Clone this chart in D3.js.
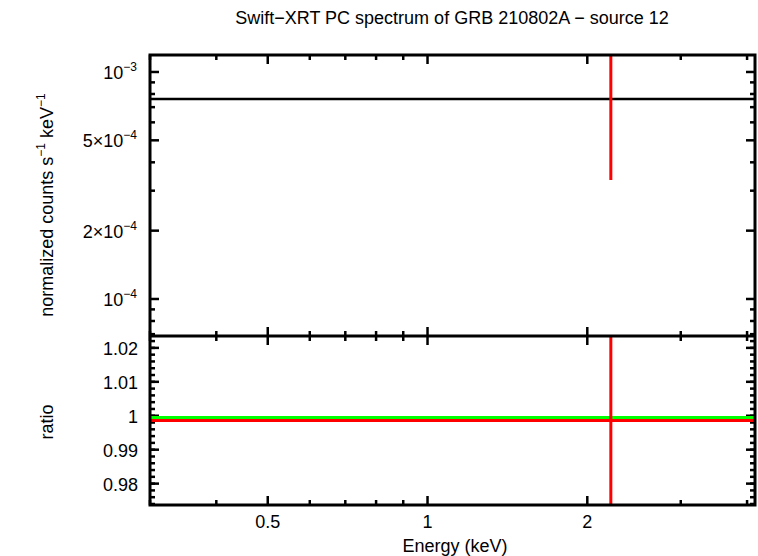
<!DOCTYPE html><html><head><meta charset="utf-8"><script src="https://cdn.jsdelivr.net/npm/d3@7"></script>
<style>body{margin:0;background:#fff}text{font-family:"Liberation Sans",Arial,sans-serif}</style></head><body>
<svg id="c" width="758" height="556"></svg>
<script>
const xDomain=[0.3,4.14];
const xMajor=[0.5,1,2];
const xMinor=[0.3,0.4,0.6,0.7,0.8,0.9,3,4];
const topDomain=[6.87e-5,1.188e-3];
const topMajor=[{v:1e-3,t:"10",e:"−3"},{v:5e-4,t:"5×10",e:"−4"},{v:2e-4,t:"2×10",e:"−4"},{v:1e-4,t:"10",e:"−4"}];
const topMinor=[7e-5,8e-5,9e-5,3e-4,4e-4,6e-4,7e-4,8e-4,9e-4];
const ratioDomain=[0.9737,1.0235];
const ratioTicks=[0.98,0.99,1,1.01,1.02];
const ratioMinor=d3.range(0.974,1.0235,0.002);
const dataE=[2.215], dataLo=[3.34e-4], dataHi=[5e-3], dataRatio=[0.9986], dataRLo=[0.9], dataRHi=[1.1];
const modelVal=[7.6e-4], modelE=[0.3,4.14], ratioModel=[0.9995];

const svg=d3.select("#c");
const L=150,R=755,T1=55,B1=336,B2=505;
const x=d3.scaleLog().domain(xDomain).range([L,R]);
const y1=d3.scaleLog().domain(topDomain).range([B1,T1]);
const y2=d3.scaleLinear().domain(ratioDomain).range([B2,B1]);
const sw=2.5;
svg.append("defs").html(`<clipPath id="cp1"><rect x="${L}" y="${T1}" width="${R-L}" height="${B1-T1}"/></clipPath><clipPath id="cp2"><rect x="${L}" y="${B1}" width="${R-L}" height="${B2-B1}"/></clipPath>`);
function ticksX(top,bot){
  const g=svg.append("g").attr("stroke","#000").attr("stroke-width",sw);
  xMajor.forEach(v=>{g.append("line").attr("x1",x(v)).attr("x2",x(v)).attr("y1",bot).attr("y2",bot-9);g.append("line").attr("x1",x(v)).attr("x2",x(v)).attr("y1",top).attr("y2",top+9);});
  xMinor.forEach(v=>{g.append("line").attr("x1",x(v)).attr("x2",x(v)).attr("y1",bot).attr("y2",bot-5);g.append("line").attr("x1",x(v)).attr("x2",x(v)).attr("y1",top).attr("y2",top+5);});
}
ticksX(T1,B1);ticksX(B1,B2);
const g1=svg.append("g").attr("stroke","#000").attr("stroke-width",sw);
topMajor.forEach(d=>{[[L,L+9],[R,R-9]].forEach(a=>g1.append("line").attr("x1",a[0]).attr("x2",a[1]).attr("y1",y1(d.v)).attr("y2",y1(d.v)));});
topMinor.forEach(v=>{[[L,L+5],[R,R-5]].forEach(a=>g1.append("line").attr("x1",a[0]).attr("x2",a[1]).attr("y1",y1(v)).attr("y2",y1(v)));});
ratioTicks.forEach(v=>{[[L,L+9],[R,R-9]].forEach(a=>g1.append("line").attr("x1",a[0]).attr("x2",a[1]).attr("y1",y2(v)).attr("y2",y2(v)));});
ratioMinor.forEach(v=>{[[L,L+5],[R,R-5]].forEach(a=>g1.append("line").attr("x1",a[0]).attr("x2",a[1]).attr("y1",y2(v)).attr("y2",y2(v)));});
topMajor.forEach(d=>{const t=svg.append("text").attr("x",L-13).attr("y",y1(d.v)+7).attr("text-anchor","end").attr("font-size",18);
 t.append("tspan").text(d.t);t.append("tspan").attr("dy",-8).attr("font-size",12).text(d.e);});
ratioTicks.forEach(v=>svg.append("text").attr("x",L-12).attr("y",y2(v)+7).attr("text-anchor","end").attr("font-size",18).text(+v.toFixed(2)));
xMajor.forEach(v=>svg.append("text").attr("x",x(v)).attr("y",528).attr("text-anchor","middle").attr("font-size",18).text(v));
const p1=svg.append("g").attr("clip-path","url(#cp1)");
p1.append("line").attr("x1",x(modelE[0])).attr("x2",x(modelE[1])).attr("y1",y1(modelVal[0])).attr("y2",y1(modelVal[0])).attr("stroke","#000").attr("stroke-width",2.5);
dataE.forEach((e,i)=>p1.append("line").attr("x1",x(e)).attr("x2",x(e)).attr("y1",y1(dataLo[i])).attr("y2",y1(dataHi[i])).attr("stroke","#f00").attr("stroke-width",3));
const p2=svg.append("g").attr("clip-path","url(#cp2)");
p2.append("line").attr("x1",L).attr("x2",R).attr("y1",y2(ratioModel[0])).attr("y2",y2(ratioModel[0])).attr("stroke","#0f0").attr("stroke-width",3);
p2.append("line").attr("x1",L).attr("x2",R).attr("y1",y2(dataRatio[0])).attr("y2",y2(dataRatio[0])).attr("stroke","#f00").attr("stroke-width",3);
dataE.forEach((e,i)=>p2.append("line").attr("x1",x(e)).attr("x2",x(e)).attr("y1",y2(dataRLo[i])).attr("y2",y2(dataRHi[i])).attr("stroke","#f00").attr("stroke-width",3));
svg.append("rect").attr("x",L).attr("y",T1).attr("width",R-L).attr("height",B2-T1).attr("fill","none").attr("stroke","#000").attr("stroke-width",3);
svg.append("line").attr("x1",L).attr("x2",R).attr("y1",B1).attr("y2",B1).attr("stroke","#000").attr("stroke-width",3);
svg.append("text").attr("x",452).attr("y",24).attr("text-anchor","middle").attr("font-size",18).text("Swift−XRT PC spectrum of GRB 210802A − source 12");
svg.append("text").attr("x",455).attr("y",552).attr("text-anchor","middle").attr("font-size",18).text("Energy (keV)");
const yl=svg.append("text").attr("transform","translate(53,205) rotate(-90)").attr("text-anchor","middle").attr("font-size",18);
yl.append("tspan").text("normalized counts s");yl.append("tspan").attr("dy",-8).attr("font-size",12).text("−1");
yl.append("tspan").attr("dy",8).text(" keV");yl.append("tspan").attr("dy",-8).attr("font-size",12).text("−1");
svg.append("text").attr("transform","translate(53,422) rotate(-90)").attr("text-anchor","middle").attr("font-size",18).text("ratio");
</script></body></html>
